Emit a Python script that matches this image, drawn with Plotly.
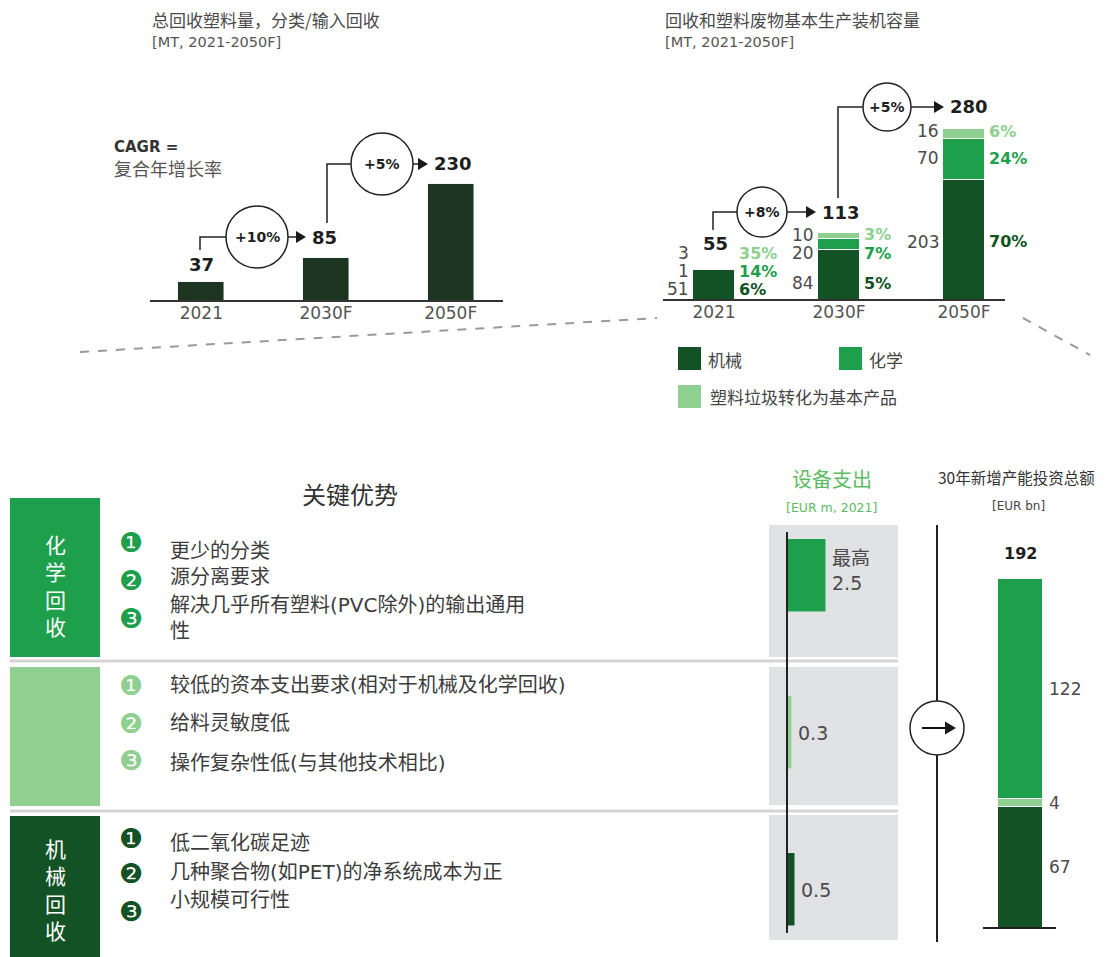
import plotly.graph_objects as go

W, H = 1110, 957
OFF = 8  # page body margin

years = ['2021', '2030F', '2050F']

# 总回收塑料量 [MT]
total_recycled = [37, 85, 230]
total_cagr = ['+10%', '+5%']

# 回收和塑料废物基本生产装机容量 [MT]
cap_mech = [51, 84, 203]
cap_chem = [1, 20, 70]
cap_basic = [3, 10, 16]
cap_total = [55, 113, 280]
cap_cagr = ['+8%', '+5%']
share_mech = ['6%', '5%', '70%']
share_chem = ['14%', '7%', '24%']
share_basic = ['35%', '3%', '6%']

# 设备支出 [EUR m, 2021]  (bottom to top)
tech = ['机械回收', '塑料垃圾转化为基本产品', '化学回收']
capex = [0.5, 0.3, 2.5]
capex_text = ['0.5', '0.3', '最高<br>2.5']

# 30年新增产能投资总额 [EUR bn]
invest_mech = 67
invest_basic = 4
invest_chem = 122
invest_total = 192

chem_points = ['更少的分类', '源分离要求', '解决几乎所有塑料(PVC除外)的输出通用<br>性']
basic_points = ['较低的资本支出要求(相对于机械及化学回收)', '给料灵敏度低', '操作复杂性低(与其他技术相比)']
mech_points = ['低二氧化碳足迹', '几种聚合物(如PET)的净系统成本为正', '小规模可行性']

MECH = '#125224'
CHEM = '#1e9f4c'
BASIC = '#8fcf90'
DARK = '#1c3420'
TXT = '#4a4a4a'
BLK = '#1e1e1e'
FONT = 'DejaVu Sans, Noto Sans CJK SC'
CJK = 'Noto Sans CJK SC'


def px(x):
    return (x - OFF) / W


def py(y):
    return 1 - (y - OFF) / H


shapes = []
annotations = []


def text(x, y, s, size=15, color=TXT, xanchor='center', family=FONT, align='left'):
    annotations.append(dict(xref='paper', yref='paper', x=px(x), y=py(y), text=s,
                            showarrow=False, xanchor=xanchor, yanchor='middle', align=align,
                            font=dict(size=size, color=color, family=family)))


def line(x0, y0, x1, y1, color='#222', width=1.5, dash=None, layer='above'):
    shapes.append(dict(type='line', xref='paper', yref='paper', x0=px(x0), y0=py(y0),
                       x1=px(x1), y1=py(y1), layer=layer,
                       line=dict(color=color, width=width, dash=dash)))


def rect(x0, y0, x1, y1, color, layer='below'):
    shapes.append(dict(type='rect', xref='paper', yref='paper', x0=px(x0), y0=py(y1),
                       x1=px(x1), y1=py(y0), fillcolor=color, line_width=0, layer=layer))


def circle(cx, cy, r):
    shapes.append(dict(type='circle', xref='paper', yref='paper', x0=px(cx - r), x1=px(cx + r),
                       y0=py(cy + r), y1=py(cy - r), fillcolor='white',
                       line=dict(color='#222', width=1.5)))


def path(points):
    d = 'M ' + ' L '.join(f'{px(a)},{py(b)}' for a, b in points)
    shapes.append(dict(type='path', xref='paper', yref='paper', path=d,
                       line=dict(color='#222', width=1.5)))


def head(tx, ty, size=10):
    d = f'M {px(tx)},{py(ty)} L {px(tx - size)},{py(ty - size * 0.6)} L {px(tx - size)},{py(ty + size * 0.6)} Z'
    shapes.append(dict(type='path', xref='paper', yref='paper', path=d,
                       fillcolor='#1a1a1a', line_width=0))


def cagr(x0, y0, yb, cx, r, tip, label, val):
    path([(x0, y0), (x0, yb), (cx - r, yb)])
    line(cx + r, yb, tip - 6, yb)
    circle(cx, yb, r)
    head(tip, yb)
    text(cx, yb, f'<b>{label}</b>', size=14, color=BLK)
    text(tip + 4, yb, f'<b>{val}</b>', size=18, color=BLK, xanchor='left')


fig = go.Figure()

# ---- top left: total recycled
fig.add_trace(go.Bar(x=years, y=total_recycled, marker_color=DARK, width=0.37,
                     xaxis='x', yaxis='y'))
annotations.append(dict(xref='x', yref='y', x=0, y=total_recycled[0], yanchor='bottom',
                        yshift=5, showarrow=False, text=f'<b>{total_recycled[0]}</b>',
                        font=dict(size=18, color=BLK)))
line(150, 301, 503, 301, '#333', 2)
cagr(200, 250, 237, 257, 31, 306, total_cagr[0], total_recycled[1])
cagr(327, 223, 164, 382, 31, 428, total_cagr[1], total_recycled[2])
text(150, 20, '总回收塑料量，分类/输入回收', 17, '#4a4a4a', 'left', CJK)
text(150, 42, '[MT, 2021-2050F]', 14.5, '#555', 'left')
text(112, 147, '<b>CAGR =</b>', 15, '#333', 'left')
text(112, 168, '复合年增长率', 18, '#555', 'left', CJK)

# ---- top right: capacity stack
for vals, col in [(cap_mech, MECH), (cap_chem, CHEM), (cap_basic, BASIC)]:
    fig.add_trace(go.Bar(x=years, y=vals, marker=dict(color=col, line=dict(color='white', width=1.2)),
                         width=0.34, xaxis='x2', yaxis='y2'))
line(663, 300, 1005, 300, '#333', 2)
label_y = [[289, 271, 253], [283, 253, 235], [242, 158, 131]]
for i, yr in enumerate(years):
    segs = [(cap_mech[i], share_mech[i], MECH), (cap_chem[i], share_chem[i], CHEM),
            (cap_basic[i], share_basic[i], BASIC)]
    for k, (v, s, c) in enumerate(segs):
        yy = py(label_y[i][k])
        annotations.append(dict(xref='x2', yref='paper', x=i, y=yy, xshift=-23, xanchor='right',
                                yanchor='middle', showarrow=False, text=str(v),
                                font=dict(size=17, color=TXT)))
        annotations.append(dict(xref='x2', yref='paper', x=i, y=yy, xshift=23, xanchor='left',
                                yanchor='middle', showarrow=False, text=f'<b>{s}</b>',
                                font=dict(size=16, color=c)))
text(715, 243, f'<b>{cap_total[0]}</b>', 18, BLK)
cagr(713, 230, 212, 762, 25, 816, cap_cagr[0], cap_total[1])
cagr(838, 198, 107, 887, 24, 944, cap_cagr[1], cap_total[2])
text(663, 20, '回收和塑料废物基本生产装机容量', 17, '#4a4a4a', 'left', CJK)
text(663, 42, '[MT, 2021-2050F]', 14.5, '#555', 'left')

# dashed connectors
line(80, 352, 657, 318, '#9a9a9a', 2, 'dash')
line(1023, 318, 1090, 355, '#9a9a9a', 2, 'dash')

# legend
rect(678, 347, 701, 370, MECH, 'above')
text(706, 359, '机械', 17, '#444', 'left', CJK)
rect(839, 347, 862, 370, CHEM, 'above')
text(867, 359, '化学', 17, '#444', 'left', CJK)
rect(678, 385, 701, 408, BASIC, 'above')
text(708, 397, '塑料垃圾转化为基本产品', 17, '#444', 'left', CJK)

# ---- bottom left: key advantages
text(350, 493, '关键优势', 24, '#333', family=CJK)
sections = [
    (498, 657, CHEM, '化学回收', 585, chem_points, [542, 580, 618], [551, 577, 604]),
    (667, 806, BASIC, '', 0, basic_points, [685, 723, 760], [685, 723, 763]),
    (816, 957, MECH, '机械回收', 889, mech_points, [838, 873, 911], [843, 872, 900]),
]
for y0, y1, col, label, ly, pts, cy, ty in sections:
    rect(10, y0, 100, y1, col)
    if label:
        text(55, ly, '<br>'.join(label), 21, 'white', family=CJK, align='center')
    for j, p in enumerate(pts):
        text(131, cy[j], '❶❷❸'[j], 27, col, family='DejaVu Sans')
        yy = ty[j] + (14 if '<br>' in p else 0)
        text(168, yy, p, 20, '#3d3d3d', 'left')
line(10, 661, 898, 661, '#d4d4d4', 3, layer='below')
line(10, 811, 898, 811, '#d4d4d4', 3, layer='below')

# ---- capex panel
text(832, 478, '设备支出', 20, '#5dbb63', family=CJK)
text(831, 507, '[EUR m, 2021]', 12.5, '#5dbb63')
for y0, y1 in [(525, 657), (667, 805), (815, 940)]:
    rect(769, y0, 898, y1, '#e1e2e4')
fig.add_trace(go.Bar(y=tech, x=capex, orientation='h', marker_color=[MECH, BASIC, CHEM],
                     width=0.465, xaxis='x3', yaxis='y3'))
for k, (v, s) in enumerate(zip(capex, capex_text)):
    annotations.append(dict(xref='x3', yref='y3', x=v, y=k, xanchor='left', xshift=4,
                            yanchor='middle', yshift=5 if '<br>' in s else 0, showarrow=False,
                            align='left', text=s, font=dict(size=19, color=TXT)))
line(787, 532, 787, 933, '#222', 2)

# ---- arrow connector
line(937, 525, 937, 942, '#222', 2)
circle(937, 728, 27)
line(922, 728, 946, 728, '#111', 2)
head(956, 728, 11)

# ---- investment stack
text(1016, 477, '30年新增产能投资总额', 15.5, '#333', family=CJK)
text(1018, 506, '[EUR bn]', 12, '#444')
base = 0
for v, col in [(invest_mech, MECH), (invest_basic, BASIC), (invest_chem, CHEM)]:
    fig.add_trace(go.Bar(x=['总额'], y=[v], marker=dict(color=col, line=dict(color='white', width=1.2)),
                         width=0.74, xaxis='x4', yaxis='y4'))
    annotations.append(dict(xref='x4', yref='y4', x=0, y=base + v / 2, xanchor='left', xshift=26,
                            yanchor='middle', showarrow=False, text=str(v),
                            font=dict(size=17, color=TXT)))
    base += v
annotations.append(dict(xref='x4', yref='y4', x=0, y=base, yanchor='bottom', yshift=14,
                        showarrow=False, text=f'<b>{invest_total}</b>',
                        font=dict(size=16, color=BLK)))
line(983, 928, 1056, 928, '#222', 2)

hidden = dict(visible=False, showgrid=False, zeroline=False)
ticks = dict(type='category', showgrid=False, zeroline=False, ticks='',
             tickfont=dict(size=17, color='#555', family='DejaVu Sans'))
fig.update_layout(
    width=W, height=H, margin=dict(l=0, r=0, t=0, b=0),
    paper_bgcolor='white', plot_bgcolor='rgba(0,0,0,0)',
    showlegend=False, barmode='stack', bargap=0,
    font=dict(family=FONT, color=TXT),
    xaxis=dict(domain=[px(139), px(513)], range=[-0.5, 2.5], **ticks),
    yaxis=dict(domain=[py(301), py(120)], range=[0, 181 / 0.509], **hidden),
    xaxis2=dict(domain=[px(651.5), px(1026.5)], range=[-0.5, 2.5], anchor='y2', **ticks),
    yaxis2=dict(domain=[py(300), py(100)], range=[0, 200 / 0.59], anchor='x2', **hidden),
    xaxis3=dict(domain=[px(787), px(898)], range=[0, 111 / 15.6], anchor='y3', **hidden),
    yaxis3=dict(domain=[py(957), py(500)], range=[-0.427, 2.484], type='category',
                categoryarray=tech, anchor='x3', **hidden),
    xaxis4=dict(domain=[px(990), px(1051)], range=[-0.5, 0.5], type='category', anchor='y4', **hidden),
    yaxis4=dict(domain=[py(928), py(540)], range=[0, 388 / 1.81], anchor='x4', **hidden),
    shapes=shapes, annotations=annotations,
)

fig.write_html('out.html')
